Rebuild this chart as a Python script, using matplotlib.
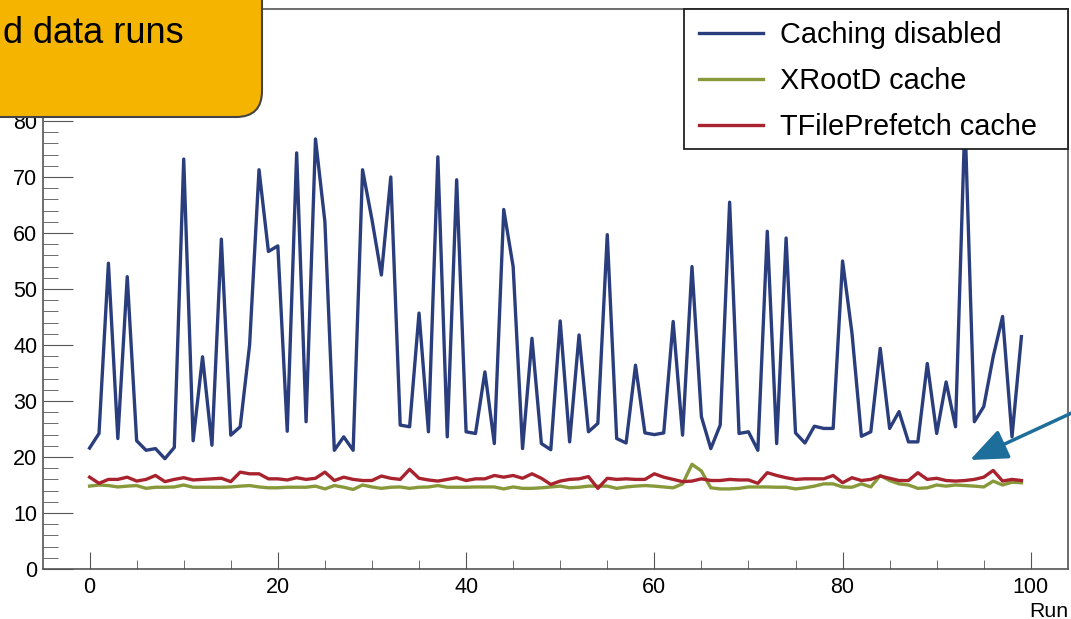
import matplotlib
matplotlib.use("Agg")
import matplotlib.pyplot as plt
from matplotlib.patches import FancyBboxPatch, FancyArrowPatch, Rectangle
from matplotlib.transforms import IdentityTransform
from matplotlib.ticker import MultipleLocator, FuncFormatter

plt.rcParams['font.family'] = ['Liberation Sans', 'DejaVu Sans']

# values, one per run
runs = list(range(100))
caching_disabled = [
    21.6, 24.2, 54.6, 23.3, 52.2, 22.9, 21.2, 21.5, 19.7, 21.7,
    73.2, 22.9, 37.9, 22.1, 58.9, 23.9, 25.4, 40.0, 71.3, 56.7,
    57.7, 24.6, 74.3, 26.3, 76.8, 62.0, 21.2, 23.6, 21.2, 71.3,
    62.4, 52.5, 70.0, 25.7, 25.4, 45.7, 24.5, 73.6, 23.6, 69.5,
    24.5, 24.2, 35.2, 22.4, 64.2, 54.0, 21.5, 41.2, 22.4, 21.3,
    44.3, 22.7, 41.8, 24.5, 26.0, 59.7, 23.3, 22.5, 36.4, 24.3,
    24.0, 24.3, 44.2, 23.9, 54.0, 27.2, 21.5, 25.7, 65.5, 24.2,
    24.5, 21.2, 60.3, 22.4, 59.1, 24.3, 22.5, 25.5, 25.1, 25.1,
    55.0, 42.1, 23.7, 24.5, 39.4, 25.1, 28.1, 22.7, 22.7, 36.7,
    24.2, 33.4, 25.4, 80.5, 26.3, 29.0, 37.9, 45.1, 23.6, 41.5]
xrootd_cache = [
    14.8, 15.0, 14.9, 14.65, 14.8, 14.9, 14.4, 14.6, 14.6, 14.65,
    15.0, 14.6, 14.6, 14.6, 14.6, 14.65, 14.8, 14.9, 14.65, 14.5,
    14.5, 14.6, 14.6, 14.6, 14.8, 14.3, 14.9, 14.6, 14.2, 15.0,
    14.65, 14.4, 14.6, 14.65, 14.4, 14.6, 14.65, 14.9, 14.6, 14.6,
    14.6, 14.65, 14.65, 14.65, 14.3, 14.65, 14.4, 14.4, 14.5, 14.65,
    14.8, 14.5, 14.6, 14.8, 14.8, 14.8, 14.4, 14.65, 14.8, 14.9,
    14.8, 14.65, 14.5, 15.2, 18.7, 17.5, 14.5, 14.3, 14.3, 14.4,
    14.65, 14.65, 14.65, 14.6, 14.6, 14.3, 14.5, 14.8, 15.2, 15.2,
    14.65, 14.6, 15.2, 14.65, 16.7, 15.8, 15.2, 15.0, 14.4, 14.5,
    15.0, 14.8, 15.0, 14.9, 14.8, 14.65, 15.7, 15.0, 15.5, 15.4]
tfileprefetch_cache = [
    16.4, 15.3, 16.0, 16.0, 16.4, 15.7, 16.0, 16.7, 15.6, 16.0,
    16.3, 15.9, 16.0, 16.1, 16.2, 15.6, 17.3, 17.0, 17.0, 16.1,
    16.1, 15.9, 16.3, 16.0, 16.2, 17.3, 15.8, 16.4, 16.0, 15.8,
    15.8, 16.6, 16.2, 16.0, 17.8, 16.2, 15.9, 15.7, 16.0, 16.3,
    15.8, 16.1, 16.1, 16.7, 16.4, 16.7, 16.2, 17.0, 16.2, 15.1,
    15.7, 16.0, 16.1, 16.5, 14.4, 16.2, 16.0, 16.1, 16.0, 16.0,
    17.0, 16.4, 16.0, 15.6, 15.7, 16.1, 15.8, 15.8, 16.0, 15.9,
    15.9, 15.3, 17.2, 16.7, 16.3, 16.0, 16.1, 16.1, 16.1, 16.7,
    15.4, 16.3, 15.8, 16.0, 16.6, 16.2, 15.8, 15.8, 17.2, 16.0,
    16.2, 15.8, 15.7, 15.8, 16.0, 16.4, 17.6, 15.7, 16.0, 15.8]

W, H = 1071, 619
fig = plt.figure(figsize=(W / 100, H / 100), dpi=100)
ax = fig.add_axes([43 / W, 1 - 569 / H, (1068 - 43) / W, (569 - 9) / H])

ax.plot(runs, caching_disabled, color='#2a3d7c', lw=2.4, label='Caching disabled')
ax.plot(runs, xrootd_cache, color='#87993a', lw=2.4, label='XRootD cache')
ax.plot(runs, tfileprefetch_cache, color='#a8232e', lw=2.4, label='TFilePrefetch cache')

ax.set_xlim(-4.95, 103.95)
ax.set_ylim(0, 100)
ax.xaxis.set_major_locator(MultipleLocator(20))
ax.xaxis.set_minor_locator(MultipleLocator(5))
ax.yaxis.set_major_locator(MultipleLocator(10))
ax.yaxis.set_minor_locator(MultipleLocator(2))
# 90 and 100 sit under the orange box anyway
ax.yaxis.set_major_formatter(FuncFormatter(lambda v, p: '' if v > 80 else f'{v:g}'))
frame = '#555555'
for s in ax.spines.values():
    s.set_color(frame)
    s.set_linewidth(1.2)
ax.tick_params(axis='both', which='both', direction='in', color=frame, labelsize=15.5)
ax.tick_params(axis='y', which='major', length=21.5, pad=4)
ax.tick_params(axis='y', which='minor', length=10.8)
ax.tick_params(axis='x', which='major', length=12.5, pad=6)
ax.tick_params(axis='x', which='minor', length=6.5)
ax.set_xlabel('Run', loc='right', fontsize=15.3)
ax.xaxis.set_label_coords(1.0, -0.059)

# legend frame drawn separately so its padding can match the original
ax.add_patch(Rectangle((0.6254, 0.75), 0.3746, 0.25, transform=ax.transAxes,
                       facecolor='white', edgecolor='#222222', linewidth=1.3,
                       zorder=4, clip_on=False))
leg = ax.legend(loc='upper left', bbox_to_anchor=(0.640, 0.979), frameon=False,
                fontsize=20.8, handlelength=2.2, handletextpad=0.62, borderpad=0,
                labelspacing=0.63, borderaxespad=0)
leg.set_zorder(5)

# orange callout box, cut by the figure edge
box = FancyBboxPatch((-40, H - 117), 302, 160, boxstyle='round,pad=0,rounding_size=26',
                     transform=IdentityTransform(), facecolor='#f4b400',
                     edgecolor='#444444', linewidth=1.5, zorder=5)
fig.add_artist(box)
fig.text(184 / W, 1 - 43 / H, 'd data runs', ha='right', va='baseline',
         fontsize=26, zorder=6)

arrow = FancyArrowPatch((1076, H - 411), (970, H - 460), transform=IdentityTransform(),
                        arrowstyle='-|>,head_length=2.3,head_width=0.95', mutation_scale=10,
                        color='#1e6e9c', linewidth=2.5, shrinkA=0, shrinkB=0, zorder=5)
fig.add_artist(arrow)

fig.savefig('out.png', dpi=100)
